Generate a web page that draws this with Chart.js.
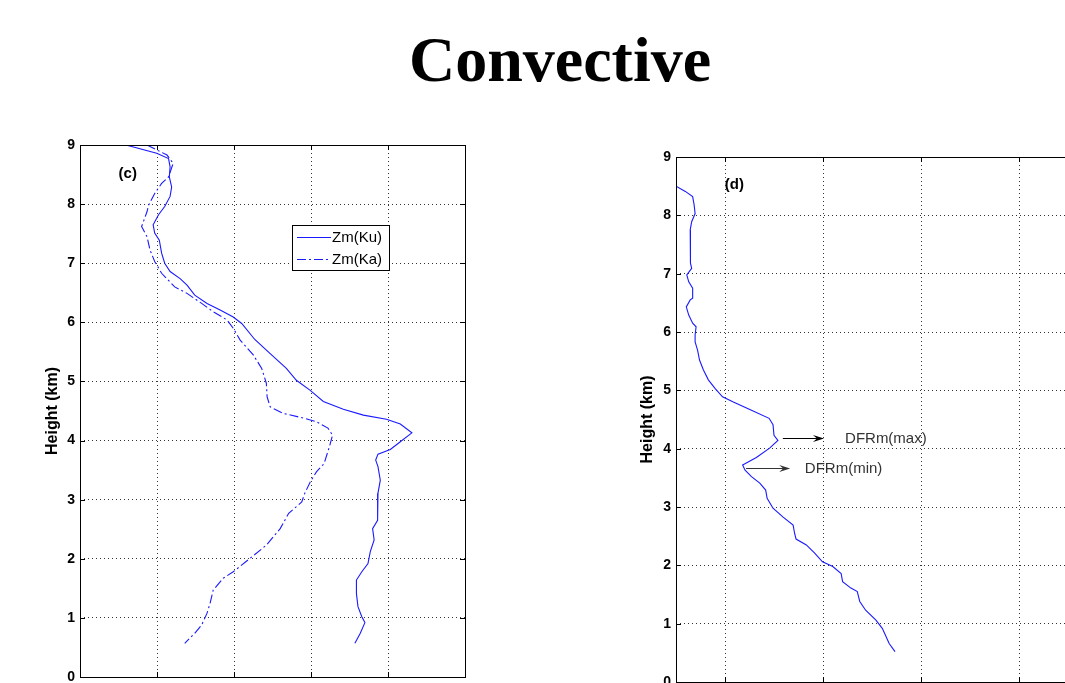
<!DOCTYPE html>
<html><head><meta charset="utf-8">
<script src="https://cdn.jsdelivr.net/npm/chart.js@4.4.1/dist/chart.umd.min.js"></script>
<style>
html,body{margin:0;padding:0;background:#fff;width:1065px;height:683px;overflow:hidden;position:relative}
#title{position:absolute;left:0;top:28px;width:1120px;text-align:center;font:bold 64px "Liberation Serif","Times New Roman",serif;line-height:64px;color:#000}
#cC{position:absolute;left:0;top:0}
#cD{position:absolute;left:560px;top:0}
</style></head><body>
<div id="title">Convective</div>
<canvas id="cC" width="480" height="720"></canvas>
<canvas id="cD" width="680" height="720"></canvas>
<script>
// ---------- data ----------
const yTicks = [0,1,2,3,4,5,6,7,8,9];
const xTicksC = [10,20,30,40,50,60];
const xTicksD = [0,2,4,6,8,10];

const heightKu = [9.0,8.86,8.77,8.63,8.46,8.29,8.13,7.96,7.82,7.65,7.51,7.39,7.17,7.0,6.86,6.74,6.63,6.46,6.32,6.21,6.09,5.98,5.71,5.47,5.22,5.02,4.85,4.66,4.53,4.43,4.36,4.28,4.13,3.98,3.85,3.77,3.67,3.56,3.33,3.11,2.88,2.65,2.51,2.32,2.12,1.92,1.78,1.64,1.41,1.19,1.02,0.92,0.74,0.57];
const zmKu = [15.97,19.96,21.5,21.7,21.6,21.9,21.7,21.0,20.2,19.5,19.7,20.3,20.6,21.0,21.7,23.0,23.9,24.9,26.5,28.2,29.9,31.0,32.7,34.7,36.8,38.1,39.9,41.6,44.2,46.8,49.8,51.6,53.1,51.6,50.3,48.7,48.4,48.7,49.0,48.7,48.6,48.7,48.0,48.2,47.7,47.4,46.6,45.9,45.9,46.1,46.6,47.0,46.4,45.7];

const heightKa = [9.0,8.83,8.69,8.46,8.35,8.18,7.98,7.87,7.62,7.45,7.22,7.03,6.83,6.60,6.49,6.32,6.18,6.04,5.90,5.70,5.45,5.22,4.97,4.74,4.57,4.46,4.38,4.32,4.21,4.09,3.90,3.61,3.47,3.30,3.11,2.96,2.77,2.51,2.23,2.01,1.78,1.67,1.47,1.25,1.08,0.88,0.74,0.57];
const zmKa = [18.7,21.3,22.1,21.5,20.6,19.7,18.9,18.7,18.0,18.7,19.1,19.7,20.6,22.3,23.9,25.8,27.3,29.1,29.9,30.8,32.5,33.6,34.2,34.3,34.7,36.4,39.0,40.7,42.2,42.8,42.4,41.7,40.7,39.9,39.2,38.8,37.1,36.0,34.2,32.1,29.9,28.6,27.3,26.9,26.5,25.8,24.9,23.6];

const heightDFR = [8.50,8.41,8.32,8.18,8.03,7.89,7.75,7.41,7.18,7.09,6.98,6.86,6.75,6.58,6.55,6.43,6.29,6.15,6.09,5.95,5.83,5.69,5.52,5.35,5.18,5.03,4.89,4.80,4.66,4.52,4.41,4.23,4.14,4.01,3.85,3.72,3.63,3.52,3.41,3.29,3.15,2.98,2.83,2.69,2.55,2.45,2.35,2.21,2.06,1.98,1.86,1.72,1.61,1.55,1.38,1.23,1.06,0.92,0.81,0.66,0.52];
const dfrm = [-1.0,-0.81,-0.66,-0.63,-0.61,-0.68,-0.71,-0.70,-0.71,-0.68,-0.78,-0.74,-0.66,-0.66,-0.71,-0.79,-0.74,-0.66,-0.59,-0.61,-0.61,-0.56,-0.52,-0.44,-0.34,-0.20,-0.05,0.17,0.54,0.90,0.98,1.0,1.08,0.91,0.64,0.36,0.41,0.54,0.71,0.83,0.86,0.98,1.18,1.39,1.42,1.45,1.66,1.83,1.99,2.20,2.37,2.40,2.57,2.70,2.75,2.87,3.08,3.21,3.27,3.35,3.47];

const seriesLabels = ['Zm(Ku)','Zm(Ka)'];
const yTitle = 'Height (km)';

// ---------- helpers ----------
const pts = (xs, ys) => xs.map((v,i)=>({x:v, y:ys[i]}));
Chart.defaults.font.family = '"Liberation Sans", Arial, Helvetica, sans-serif';
Chart.defaults.color = '#000';
const LINE = '#1a1aff';

function makeDeco(cfg){
  return {
    id:'deco',
    afterDraw(chart){
      const {ctx, chartArea:a, scales:{x,y}} = chart;
      ctx.save();
      ctx.strokeStyle='#000'; ctx.lineWidth=1; ctx.setLineDash([]);
      ctx.beginPath();
      for(const t of y.ticks){const py=Math.round(y.getPixelForValue(t.value))+0.5;
        ctx.moveTo(a.left,py);ctx.lineTo(a.left+5,py);ctx.moveTo(a.right,py);ctx.lineTo(a.right-5,py);}
      for(const t of x.ticks){const px=Math.round(x.getPixelForValue(t.value))+0.5;
        ctx.moveTo(px,a.top);ctx.lineTo(px,a.top+5);ctx.moveTo(px,a.bottom);ctx.lineTo(px,a.bottom-5);}
      ctx.stroke();
      ctx.strokeRect(Math.round(a.left)+0.5,Math.round(a.top)+0.5,Math.round(a.right-a.left),Math.round(a.bottom-a.top));
      // panel label
      if(cfg.label){
        ctx.font='bold 15px "Liberation Sans", Arial, sans-serif';
        ctx.fillStyle='#000';ctx.textAlign='center';ctx.textBaseline='middle';
        ctx.fillText(cfg.label.text, x.getPixelForValue(cfg.label.x), y.getPixelForValue(cfg.label.y));
      }
      // arrows
      (cfg.arrows||[]).forEach(ar=>{
        const x0=x.getPixelForValue(ar.x0), x1=x.getPixelForValue(ar.x1), py=Math.round(y.getPixelForValue(ar.y))+0.5;
        ctx.strokeStyle=ar.color; ctx.fillStyle=ar.color; ctx.lineWidth=1;
        ctx.beginPath();ctx.moveTo(x0,py);ctx.lineTo(x1-6,py);ctx.stroke();
        ctx.beginPath();ctx.moveTo(x1,py);ctx.lineTo(x1-11,py-3.5);ctx.lineTo(x1-7,py);ctx.lineTo(x1-11,py+3.5);ctx.closePath();ctx.fill();
        ctx.font='15px "Liberation Sans", Arial, sans-serif';
        ctx.fillStyle='#333';ctx.textAlign='left';ctx.textBaseline='middle';
        ctx.fillText(ar.text, x.getPixelForValue(ar.tx), py);
      });
      // legend
      if(cfg.legend){
        const L=cfg.legend;
        ctx.fillStyle='#fff';ctx.fillRect(L.x,L.y,L.w,L.h);
        ctx.strokeStyle='#000';ctx.lineWidth=1;ctx.strokeRect(L.x+0.5,L.y+0.5,L.w,L.h);
        chart.data.datasets.forEach((ds,i)=>{
          const ry=Math.round(L.y+12+i*22)+0.5;
          ctx.strokeStyle=ds.borderColor;ctx.lineWidth=1;ctx.setLineDash(ds.borderDash||[]);
          ctx.beginPath();ctx.moveTo(L.x+5,ry);ctx.lineTo(L.x+39,ry);ctx.stroke();
          ctx.setLineDash([]);
          ctx.font='15px "Liberation Sans", Arial, sans-serif';
          ctx.fillStyle='#000';ctx.textAlign='left';ctx.textBaseline='middle';
          ctx.fillText(ds.label,L.x+40,ry);
        });
      }
      ctx.restore();
    }
  };
}

function yScale(titlePad, width){
  return {
    type:'linear', min:0, max:9,
    afterBuildTicks:s=>{s.ticks=yTicks.map(v=>({value:v}));},
    afterFit:s=>{s.width=width;},
    grid:{color:'rgba(0,0,0,0.8)',lineWidth:1,drawTicks:false},
    border:{display:false,dash:[1,3]},
    ticks:{font:{size:14,weight:'bold'},color:'#000',padding:5},
    title:{display:true,text:yTitle,font:{size:16,weight:'bold'},color:'#000',padding:{top:titlePad,bottom:0}}
  };
}
function xScale(min,max,ticks,height){
  return {
    type:'linear', min:min, max:max,
    afterBuildTicks:s=>{s.ticks=ticks.map(v=>({value:v}));},
    afterFit:s=>{s.height=height;},
    grid:{color:'rgba(0,0,0,0.8)',lineWidth:1,drawTicks:false},
    border:{display:false,dash:[1,3]},
    ticks:{display:false}
  };
}
const common = {
  responsive:false, animation:false, events:[],
  plugins:{legend:{display:false},tooltip:{enabled:false}},
  elements:{point:{radius:0},line:{tension:0}}
};

// ---------- panel (c) ----------
new Chart(document.getElementById('cC'),{
  type:'scatter',
  data:{datasets:[
    {label:seriesLabels[0],data:pts(zmKu,heightKu),showLine:true,borderColor:LINE,borderWidth:1.1,pointRadius:0},
    {label:seriesLabels[1],data:pts(zmKa,heightKa),showLine:true,borderColor:LINE,borderWidth:1.1,borderDash:[9,3,2,3],pointRadius:0}
  ]},
  options:Object.assign({},common,{
    layout:{padding:{top:145,right:15,bottom:0,left:0}},
    scales:{x:xScale(10,60,xTicksC,43), y:yScale(43,80)}
  }),
  plugins:[makeDeco({
    label:{text:'(c)',x:16.2,y:8.51},
    legend:{x:292,y:225,w:97,h:45}
  })]
});

// ---------- panel (d) ----------
new Chart(document.getElementById('cD'),{
  type:'scatter',
  data:{datasets:[
    {label:'DFRm',data:pts(dfrm,heightDFR),showLine:true,borderColor:LINE,borderWidth:1.1,pointRadius:0}
  ]},
  options:Object.assign({},common,{
    layout:{padding:{top:157,right:25,bottom:0,left:0}},
    scales:{x:xScale(-1,10,xTicksD,38), y:yScale(78,116)}
  }),
  plugins:[makeDeco({
    label:{text:'(d)',x:0.19,y:8.52},
    arrows:[
      {x0:1.18,x1:2.02,y:4.19,tx:2.45,text:'DFRm(max)',color:'#000'},
      {x0:0.43,x1:1.33,y:3.66,tx:1.63,text:'DFRm(min)',color:'#333'}
    ]
  })]
});
</script></body></html>
